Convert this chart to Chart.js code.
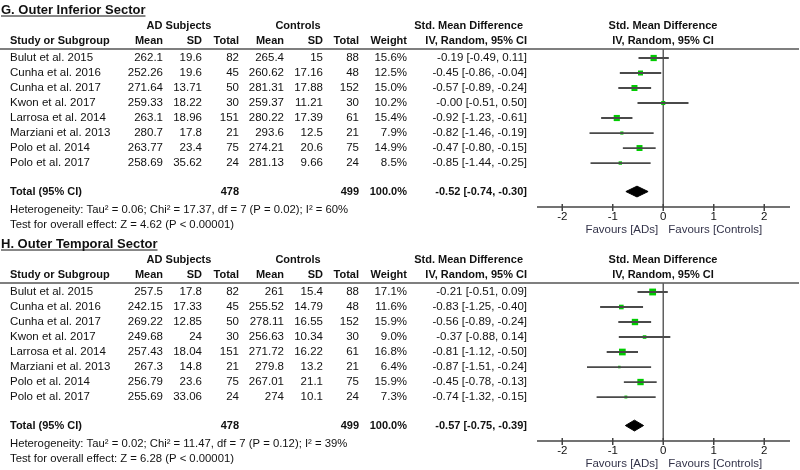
<!DOCTYPE html>
<html lang="en">
<head>
<meta charset="UTF-8">
<title>Outer Inferior / Outer Temporal Sector – forest plots</title>
<script src="https://cdn.jsdelivr.net/npm/chart.js"></script>
<style>
  body { margin: 0; background: #fff; }
  .panel { position: absolute; left: 0; width: 800px; height: 236px; }
  #panelG { top: 0; }
  #panelH { top: 234px; }
</style>
</head>
<body>
<canvas id="panelG" class="panel" width="800" height="236"></canvas>
<canvas id="panelH" class="panel" width="800" height="236"></canvas>
<script>
// studies (same in both panels)
const studies = ['Bulut et al. 2015', 'Cunha et al. 2016', 'Cunha et al. 2017', 'Kwon et al. 2017',
  'Larrosa et al. 2014', 'Marziani et al. 2013', 'Polo et al. 2014', 'Polo et al. 2017'];
const adN = [82, 45, 50, 30, 151, 21, 75, 24];
const ctN = [88, 48, 152, 30, 61, 21, 75, 24];
const totalN = [478, 499];
const xTicks = [-2, -1, 0, 1, 2];

// G. Outer Inferior Sector
const gAdMean = [262.1, 252.26, 271.64, 259.33, 263.1, 280.7, 263.77, 258.69];
const gAdSd = [19.6, 19.6, 13.71, 18.22, 18.96, 17.8, 23.4, 35.62];
const gCtMean = [265.4, 260.62, 281.31, 259.37, 280.22, 293.6, 274.21, 281.13];
const gCtSd = [15, 17.16, 17.88, 11.21, 17.39, 12.5, 20.6, 9.66];
const gWeight = [15.6, 12.5, 15.0, 10.2, 15.4, 7.9, 14.9, 8.5];
const gSmd = [-0.19, -0.45, -0.57, -0, -0.92, -0.82, -0.47, -0.85];
const gLo = [-0.49, -0.86, -0.89, -0.51, -1.23, -1.46, -0.80, -1.44];
const gHi = [0.11, -0.04, -0.24, 0.50, -0.61, -0.19, -0.15, -0.25];
const gTotal = [-0.52, -0.74, -0.30];   // estimate, lower, upper
const gHet = 'Heterogeneity: Tau\u00b2 = 0.06; Chi\u00b2 = 17.37, df = 7 (P = 0.02); I\u00b2 = 60%';
const gTest = 'Test for overall effect: Z = 4.62 (P < 0.00001)';

// H. Outer Temporal Sector
const hAdMean = [257.5, 242.15, 269.22, 249.68, 257.43, 267.3, 256.79, 255.69];
const hAdSd = [17.8, 17.33, 12.85, 24, 18.04, 14.8, 23.6, 33.06];
const hCtMean = [261, 255.52, 278.11, 256.63, 271.72, 279.8, 267.01, 274];
const hCtSd = [15.4, 14.79, 16.55, 10.34, 16.22, 13.2, 21.1, 10.1];
const hWeight = [17.1, 11.6, 15.9, 9.0, 16.8, 6.4, 15.9, 7.3];
const hSmd = [-0.21, -0.83, -0.56, -0.37, -0.81, -0.87, -0.45, -0.74];
const hLo = [-0.51, -1.25, -0.89, -0.88, -1.12, -1.51, -0.78, -1.32];
const hHi = [0.09, -0.40, -0.24, 0.14, -0.50, -0.24, -0.13, -0.15];
const hTotal = [-0.57, -0.75, -0.39];
const hHet = 'Heterogeneity: Tau\u00b2 = 0.02; Chi\u00b2 = 11.47, df = 7 (P = 0.12); I\u00b2 = 39%';
const hTest = 'Test for overall effect: Z = 6.28 (P < 0.00001)';

const FONT = '"Liberation Sans", Arial, sans-serif';
const TOTAL_ROW = 8.9;
const GREEN = '#00cc00';

function f2(v) { return (Object.is(v, -0) ? '-' : '') + v.toFixed(2); }
function ci(e, l, u) { return f2(e) + ' [' + f2(l) + ', ' + f2(u) + ']'; }

function line(ctx, x1, y1, x2, y2) {
  ctx.beginPath(); ctx.moveTo(x1, y1); ctx.lineTo(x2, y2); ctx.stroke();
}

function forestPlugin(p) {
  return {
    id: 'forestTable',
    beforeDatasetsDraw(chart) {
      const { ctx, chartArea: a, scales: { x } } = chart;
      ctx.save();
      ctx.strokeStyle = '#555';
      ctx.lineWidth = 1.5;
      line(ctx, 0, a.top, 799, a.top);
      const x0 = x.getPixelForValue(0);
      ctx.strokeStyle = '#606060';
      line(ctx, x0, a.top, x0, a.bottom);
      ctx.strokeStyle = '#444';
      line(ctx, a.left, a.bottom, a.right, a.bottom);
      xTicks.forEach(t => {
        const px = x.getPixelForValue(t);
        line(ctx, px, a.bottom - 3, px, a.bottom + 4);
      });
      ctx.restore();
    },
    afterDraw(chart) {
      const { ctx, chartArea: a, scales: { x, y } } = chart;
      ctx.save();
      ctx.fillStyle = '#111';
      ctx.textBaseline = 'middle';
      const txt = (s, px, py, align, bold, size) => {
        ctx.font = (bold ? 'bold ' : '') + (size || 11.5) + 'px ' + FONT;
        ctx.textAlign = align;
        ctx.fillText(s, px, py);
      };

      // title, underlined
      ctx.textBaseline = 'alphabetic';
      ctx.font = 'bold 13px ' + FONT;
      ctx.textAlign = 'left';
      ctx.fillText(p.title, 1, a.top - 35);
      const tw = ctx.measureText(p.title).width;
      ctx.strokeStyle = '#111'; ctx.lineWidth = 1;
      line(ctx, 1, a.top - 33, 1 + tw, a.top - 33);
      ctx.textBaseline = 'middle';

      // headers
      const h1 = a.top - 23, h2 = a.top - 8;
      txt('AD Subjects', 179, h1, 'center', true, 11);
      txt('Controls', 298, h1, 'center', true, 11);
      txt('Std. Mean Difference', 523, h1, 'right', true, 11);
      txt('Std. Mean Difference', 663, h1, 'center', true, 11);
      txt('Study or Subgroup', 10, h2, 'left', true, 11);
      txt('Mean', 163, h2, 'right', true, 11);
      txt('SD', 202, h2, 'right', true, 11);
      txt('Total', 239, h2, 'right', true, 11);
      txt('Mean', 284, h2, 'right', true, 11);
      txt('SD', 323, h2, 'right', true, 11);
      txt('Total', 359, h2, 'right', true, 11);
      txt('Weight', 407, h2, 'right', true, 11);
      txt('IV, Random, 95% CI', 527, h2, 'right', true, 11);
      txt('IV, Random, 95% CI', 663, h2, 'center', true, 11);

      // study rows
      studies.forEach((s, i) => {
        const py = y.getPixelForValue(i);
        txt(s, 10, py, 'left');
        txt(String(p.adMean[i]), 163, py, 'right');
        txt(String(p.adSd[i]), 202, py, 'right');
        txt(String(adN[i]), 239, py, 'right');
        txt(String(p.ctMean[i]), 284, py, 'right');
        txt(String(p.ctSd[i]), 323, py, 'right');
        txt(String(ctN[i]), 359, py, 'right');
        txt(p.weight[i].toFixed(1) + '%', 407, py, 'right');
        txt(ci(p.smd[i], p.lo[i], p.hi[i]), 527, py, 'right');
      });

      // total row
      const ty = y.getPixelForValue(TOTAL_ROW);
      txt('Total (95% CI)', 10, ty, 'left', true, 11);
      txt(String(totalN[0]), 239, ty, 'right', true, 11);
      txt(String(totalN[1]), 359, ty, 'right', true, 11);
      txt('100.0%', 407, ty, 'right', true, 11);
      txt(ci(p.total[0], p.total[1], p.total[2]), 527, ty, 'right', true, 11);

      // footer
      txt(p.het, 10, a.bottom + 3, 'left', false, 11.3);
      txt(p.test, 10, a.bottom + 18, 'left', false, 11.3);

      // axis labels
      xTicks.forEach(t => txt(String(t), x.getPixelForValue(t), a.bottom + 10, 'center'));
      const x0 = x.getPixelForValue(0);
      ctx.fillStyle = '#34344a';
      txt('Favours [ADs]', x0 - 5, a.bottom + 23, 'right');
      txt('Favours [Controls]', x0 + 5, a.bottom + 23, 'left');
      ctx.restore();
    }
  };
}

function drawForest(id, p) {
  const whiskers = [];
  p.lo.forEach((l, i) => {
    whiskers.push({ x: l, y: i }, { x: p.hi[i], y: i }, { x: null, y: null });
  });
  const squares = p.smd.map((v, i) => ({ x: v, y: i }));
  const [est, lo, hi] = p.total;
  const diamond = [
    { x: lo, y: TOTAL_ROW }, { x: est, y: TOTAL_ROW - 0.36 },
    { x: hi, y: TOTAL_ROW }, { x: est, y: TOTAL_ROW + 0.36 }, { x: lo, y: TOTAL_ROW }
  ];

  new Chart(document.getElementById(id), {
    type: 'scatter',
    data: {
      datasets: [
        { data: whiskers, showLine: true, spanGaps: false, borderColor: '#4a4a4a', borderWidth: 1.8, pointRadius: 0 },
        { data: squares, pointStyle: 'rect', pointRadius: p.weight.map(w => w / 2.5 / Math.SQRT2),
          backgroundColor: GREEN, borderColor: GREEN, borderWidth: 0 },
        { data: diamond, showLine: true, fill: 'shape', borderColor: '#000', backgroundColor: '#000',
          borderWidth: 1, pointRadius: 0 }
      ]
    },
    options: {
      responsive: false,
      animation: false,
      layout: { padding: { left: 537, right: 10, top: 49, bottom: 29 } },
      scales: {
        x: { type: 'linear', min: -2.5, max: 2.51, display: false },
        y: { type: 'linear', min: -0.6, max: 9.93, reverse: true, display: false }
      },
      plugins: { legend: { display: false }, tooltip: { enabled: false } }
    },
    plugins: [forestPlugin(p)]
  });
}

drawForest('panelG', {
  title: 'G. Outer Inferior Sector', adMean: gAdMean, adSd: gAdSd, ctMean: gCtMean, ctSd: gCtSd,
  weight: gWeight, smd: gSmd, lo: gLo, hi: gHi, total: gTotal, het: gHet, test: gTest
});
drawForest('panelH', {
  title: 'H. Outer Temporal Sector', adMean: hAdMean, adSd: hAdSd, ctMean: hCtMean, ctSd: hCtSd,
  weight: hWeight, smd: hSmd, lo: hLo, hi: hHi, total: hTotal, het: hHet, test: hTest
});
</script>
</body>
</html>
